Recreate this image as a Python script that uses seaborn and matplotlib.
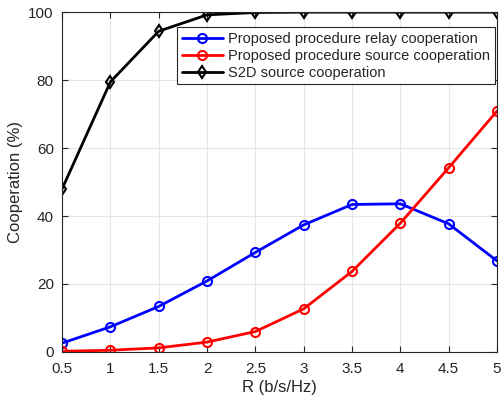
import numpy as np
import pandas as pd
import matplotlib
matplotlib.use("Agg")
from matplotlib import pyplot as plt
import seaborn as sb

# data
rate = [0.5, 1, 1.5, 2, 2.5, 3, 3.5, 4, 4.5, 5]
relay_coop = [2.6, 7.4, 13.4, 20.9, 29.3, 37.4, 43.4, 43.6, 37.7, 26.8]
source_coop = [0.2, 0.5, 1.2, 2.9, 6.0, 12.7, 23.7, 37.9, 54.2, 70.9]
s2d_coop = [48.0, 79.5, 94.4, 99.2, 99.9, 100, 100, 100, 100, 100]

labels = ["Proposed procedure relay cooperation",
          "Proposed procedure source cooperation",
          "S2D source cooperation"]

df = pd.DataFrame({
    "R": rate * 3,
    "coop": relay_coop + source_coop + s2d_coop,
    "series": [labels[0]] * 10 + [labels[1]] * 10 + [labels[2]] * 10,
})

sb.set_style("ticks")
plt.rcParams["font.family"] = ["Liberation Sans", "DejaVu Sans"]

fig = plt.figure(figsize=(5.01, 4.05), dpi=100)
ax = fig.add_axes([0.124, 0.131, 0.868, 0.839])

sb.lineplot(data=df, x="R", y="coop", hue="series", style="series",
            palette=["#0000ff", "#ff0000", "#000000"],
            markers=["o", "o", "d"], dashes=False, linewidth=2,
            markersize=6.5, markerfacecolor="none", markeredgewidth=1.5,
            ax=ax)
for line in ax.lines:
    line.set_markeredgecolor(line.get_color())
    line.set_markerfacecolor("none")

ax.set_xlim(0.5, 5)
ax.set_ylim(0, 100)
ax.set_xticks(rate)
ax.set_xticklabels(["0.5", "1", "1.5", "2", "2.5", "3", "3.5", "4", "4.5", "5"])
ax.set_yticks([0, 20, 40, 60, 80, 100])
ax.grid(True, color="#e6e6e6", linewidth=0.8)
ax.set_axisbelow(True)
ax.tick_params(direction="in", top=True, right=True, labelsize=11, colors="#262626", length=4)
ax.tick_params(axis="x", pad=7)
ax.tick_params(axis="y", pad=6)
for sp in ax.spines.values():
    sp.set_visible(True)
    sp.set_color("#262626")
    sp.set_linewidth(0.8)

ax.set_xlabel("R (b/s/Hz)", fontsize=12, color="#262626", labelpad=3)
ax.set_ylabel("Cooperation (%)", fontsize=12, color="#262626", labelpad=4)

leg = ax.legend(loc="upper right", bbox_to_anchor=(0.995, 0.955), fontsize=10.5,
                frameon=True, fancybox=False, framealpha=1, edgecolor="#262626",
                borderpad=0.3, labelspacing=0.2, handlelength=2.8, handletextpad=0.4,
                borderaxespad=0)
leg.get_frame().set_linewidth(0.8)

fig.savefig("out.png", dpi=100)
